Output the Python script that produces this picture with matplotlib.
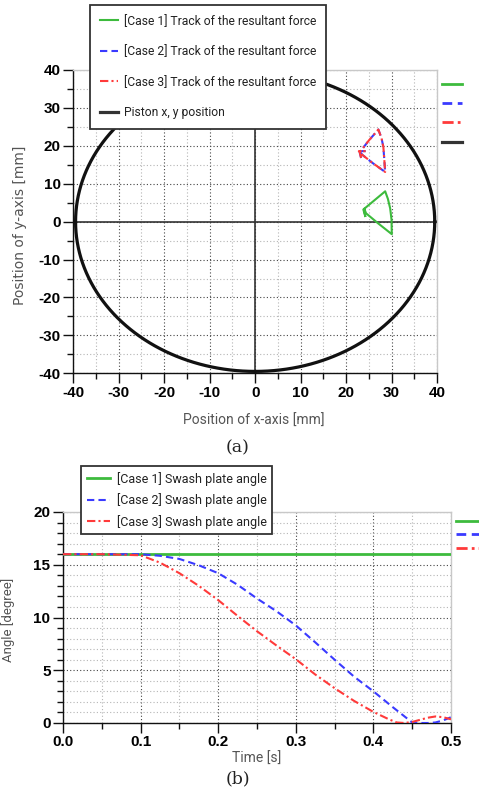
import numpy as np
import matplotlib
matplotlib.use("Agg")
import matplotlib.pyplot as plt
from matplotlib.lines import Line2D
from matplotlib.ticker import MultipleLocator, FormatStrFormatter

plt.rcParams['axes.unicode_minus'] = False
NARROW = ['Liberation Sans Narrow', 'Roboto', 'Liberation Sans', 'DejaVu Sans']
TICKFONT = ['Liberation Sans', 'DejaVu Sans']

# ---------------- data (a) ----------------
case1_x = [24.2, 23.8, 26.2, 28.6, 29.2, 29.7, 30.0, 30.05, 27.0, 24.4, 24.0, 24.2]
case1_y = [1.5, 3.2, 5.6, 8.0, 6.0, 3.5, 0.5, -3.3, -0.4, 2.2, 3.4, 1.5]
case23_x = [23.3, 23.0, 25.0, 27.1, 27.8, 28.2, 28.4, 28.6, 25.8, 23.6, 22.8, 24.3]
case23_y = [16.8, 18.3, 21.4, 24.3, 22.0, 19.7, 16.5, 13.1, 15.5, 17.6, 18.6, 18.6]
piston_radius = 39.5

# ---------------- data (b) ----------------
t2 = [0, 0.05, 0.1, 0.125, 0.15, 0.175, 0.2, 0.225, 0.25, 0.275, 0.3, 0.325,
      0.35, 0.375, 0.4, 0.425, 0.45, 0.46, 0.47, 0.48, 0.49, 0.5]
case2_angle = [16, 16, 16, 15.85, 15.55, 14.95, 14.2, 13.1, 11.8, 10.6, 9.25, 7.65,
               6.0, 4.4, 3.0, 1.5, 0.05, 0.0, 0.0, 0.05, 0.25, 0.55]
t3 = [0, 0.05, 0.1, 0.125, 0.15, 0.175, 0.2, 0.225, 0.25, 0.275, 0.3, 0.325,
      0.35, 0.375, 0.4, 0.42, 0.43, 0.44, 0.45, 0.46, 0.47, 0.48, 0.49, 0.5]
case3_angle = [16, 16, 15.9, 15.2, 14.2, 13.0, 11.65, 10.15, 8.7, 7.35, 6.05, 4.6,
               3.3, 2.1, 1.05, 0.35, 0.05, 0.0, 0.1, 0.3, 0.5, 0.62, 0.55, 0.35]
t1 = [0, 0.5]
case1_angle = [16, 16]

labels_a = ["[Case 1] Track of the resultant force",
            "[Case 2] Track of the resultant force",
            "[Case 3] Track of the resultant force",
            "Piston x, y position"]
labels_b = ["[Case 1] Swash plate angle",
            "[Case 2] Swash plate angle",
            "[Case 3] Swash plate angle"]

GREEN = '#3dbb3d'
BLUE = '#3a3aff'
RED = '#ff3a3a'
BLACK = '#111111'
DASH = (0, (3.5, 2))
DASHDOT = (0, (4, 1.5, 1, 1.5))

fig = plt.figure(figsize=(4.79, 7.91), dpi=100)


def style_axes(ax):
    for s in ['top', 'right']:
        ax.spines[s].set_color('#c8c8c8')
        ax.spines[s].set_linewidth(1.0)
    for s in ['left', 'bottom']:
        ax.spines[s].set_color('#111111')
        ax.spines[s].set_linewidth(1.0)
    ax.tick_params(which='major', direction='out', length=7, width=1.0, color='#111111', pad=2)
    ax.tick_params(which='minor', direction='out', length=4, width=1.0, color='#111111')
    ax.tick_params(top=False, right=False, which='both')
    ax.grid(which='major', color='#444444', linestyle=(0, (1, 2)), linewidth=0.8)
    ax.grid(which='minor', color='#b5b5b5', linestyle=(0, (1, 2)), linewidth=0.8)
    for lab in ax.get_xticklabels() + ax.get_yticklabels():
        lab.set_fontfamily(TICKFONT)
        lab.set_fontweight('bold')
        lab.set_fontsize(11)


# ---------------- (a) ----------------
ax1 = fig.add_axes([73.3 / 479, 1 - 373.3 / 791, (437 - 73.3) / 479, (373.3 - 70) / 791])
theta = np.linspace(0, 2 * np.pi, 361)
ax1.axhline(0, color='#333333', lw=1.2, zorder=2)
ax1.axvline(0, color='#333333', lw=1.2, zorder=2)
l1, = ax1.plot(case1_x, case1_y, color=GREEN, lw=1.5, zorder=3)
l2, = ax1.plot(case23_x, case23_y, color=BLUE, lw=1.5, linestyle=DASH, zorder=3)
l3, = ax1.plot(case23_x, case23_y, color=RED, lw=1.5, linestyle=DASHDOT, zorder=4)
l4, = ax1.plot(piston_radius * np.cos(theta), piston_radius * np.sin(theta),
               color=BLACK, lw=2.3, zorder=3)
ax1.set_xlim(-40, 40)
ax1.set_ylim(-40, 40)
ax1.xaxis.set_major_locator(MultipleLocator(10))
ax1.xaxis.set_minor_locator(MultipleLocator(5))
ax1.yaxis.set_major_locator(MultipleLocator(10))
ax1.yaxis.set_minor_locator(MultipleLocator(5))
ax1.set_axisbelow(True)
style_axes(ax1)

h4 = Line2D([], [], color='#333333', lw=2.3)
leg1 = fig.legend([l1, l2, l3, h4], labels_a, loc='upper left',
                  bbox_to_anchor=(90 / 479, 1 - 5 / 791),
                  prop={'family': NARROW, 'size': 8.7},
                  frameon=True, fancybox=False, framealpha=1, edgecolor='#333333',
                  handlelength=1.5, handletextpad=0.5, labelspacing=1.45,
                  borderpad=0.8, borderaxespad=0)
leg1.get_frame().set_linewidth(1.3)
for txt in leg1.get_texts():
    txt.set_color('#222222')

fig.text(254 / 479, 1 - 421 / 791, "Position of x-axis [mm]", ha='center', va='center',
         fontsize=10, color='#555555', family=NARROW)
fig.text(20 / 479, 1 - 225 / 791, "Position of y-axis [mm]", ha='center', va='center',
         rotation=90, fontsize=10, color='#555555', family='DejaVu Sans')
fig.text(238 / 479, 1 - 448 / 791, "(a)", ha='center', va='center',
         fontsize=12.5, color='#222222', family='DejaVu Serif')

# right mini legend (a)
for yy, c, ls, lw in [(84, GREEN, '-', 2.0), (103, BLUE, DASH, 2.0),
                      (122, RED, DASHDOT, 2.0), (142, '#333333', '-', 2.3)]:
    fig.add_artist(Line2D([442 / 479, 462 / 479], [1 - yy / 791, 1 - yy / 791],
                          color=c, linestyle=ls, lw=lw, transform=fig.transFigure))

# ---------------- (b) ----------------
ax2 = fig.add_axes([63 / 479, 1 - 723 / 791, (451 - 63) / 479, (723 - 512) / 791])
m1, = ax2.plot(t1, case1_angle, color=GREEN, lw=2.0, zorder=3)
m2, = ax2.plot(t2, case2_angle, color=BLUE, lw=1.5, linestyle=DASH, zorder=3)
m3, = ax2.plot(t3, case3_angle, color=RED, lw=1.5, linestyle=DASHDOT, zorder=3)
ax2.set_xlim(0, 0.5)
ax2.set_ylim(0, 20)
ax2.xaxis.set_major_locator(MultipleLocator(0.1))
ax2.xaxis.set_minor_locator(MultipleLocator(0.05))
ax2.xaxis.set_major_formatter(FormatStrFormatter('%.1f'))
ax2.yaxis.set_major_locator(MultipleLocator(5))
ax2.yaxis.set_minor_locator(MultipleLocator(1))
ax2.set_axisbelow(True)
style_axes(ax2)

leg2 = fig.legend([m1, m2, m3], labels_b, loc='upper left',
                  bbox_to_anchor=(81 / 479, 1 - 466 / 791),
                  prop={'family': NARROW, 'size': 9},
                  frameon=True, fancybox=False, framealpha=1, edgecolor='#333333',
                  handlelength=1.9, handletextpad=0.5, labelspacing=0.6,
                  borderpad=0.45, borderaxespad=0)
leg2.get_frame().set_linewidth(1.3)
for txt in leg2.get_texts():
    txt.set_color('#222222')

fig.text(257 / 479, 1 - 759 / 791, "Time [s]", ha='center', va='center',
         fontsize=10, color='#555555', family=NARROW)
fig.text(8 / 479, 1 - 620 / 791, "Angle [degree]", ha='center', va='center',
         rotation=90, fontsize=9.5, color='#555555', family=NARROW)
fig.text(238 / 479, 1 - 779 / 791, "(b)", ha='center', va='center',
         fontsize=12.5, color='#222222', family='DejaVu Serif')

for yy, c, ls in [(521, GREEN, '-'), (534, BLUE, DASH), (548, RED, DASHDOT)]:
    fig.add_artist(Line2D([456 / 479, 479 / 479], [1 - yy / 791, 1 - yy / 791],
                          color=c, linestyle=ls, lw=2.0, transform=fig.transFigure))

fig.savefig("out.png", dpi=100)
